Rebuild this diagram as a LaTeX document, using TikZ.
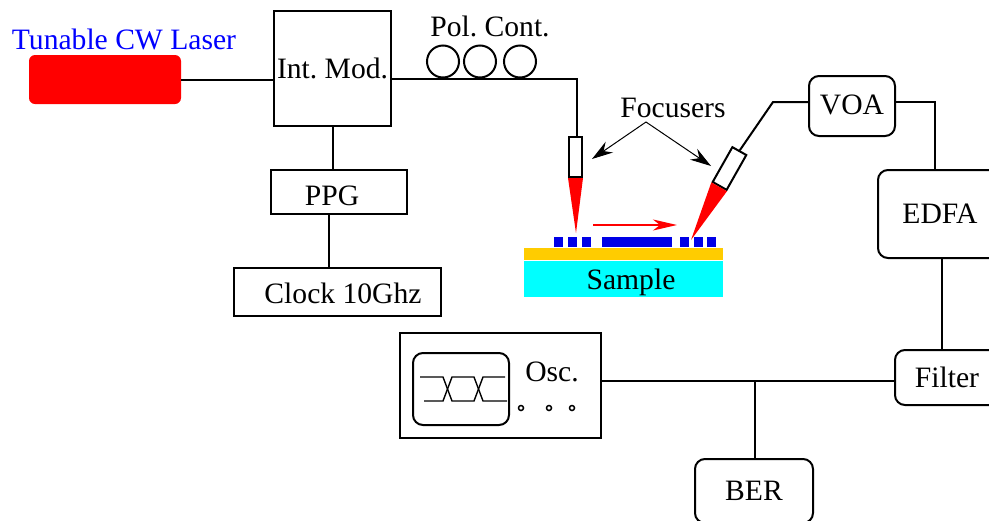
\documentclass[tikz,border=0pt]{standalone}
\usepackage{fontspec}
\setmainfont{Liberation Serif}
\usepackage{xcolor}
\usetikzlibrary{arrows.meta}
\definecolor{layergold}{RGB}{255,204,0}
\definecolor{layercyan}{RGB}{0,255,255}
\definecolor{gratingblue}{RGB}{0,0,230}
\begin{document}
\frenchspacing
\begin{tikzpicture}[
  x=1pt,y=-1pt,
  font=\fontsize{29.6}{32}\selectfont,
  block/.style={draw,line width=2pt,inner sep=0pt,align=center},
  roundblock/.style={block,rounded corners=10pt},
  wire/.style={line width=2pt},
  grating/.style={fill=gratingblue,draw=none,inner sep=0pt,minimum height=10.5pt},
  eye/.style={line width=1.4pt},
  pointer/.style={line width=1pt,-{Stealth[length=21pt,width=13pt,inset=7pt]}}
]
\useasboundingbox (0,0) rectangle (989,520);
\clip (0,0) rectangle (989,520);
% source and modulator
\node[fill=red,rounded corners=6pt,minimum width=152pt,minimum height=49pt,inner sep=0pt] (laser) at (105,79.5) {};
\node[text=blue] (laserlabel) at (124,39) {Tunable CW Laser};
\node[block,minimum width=117pt,minimum height=115pt] (mod) at (332.5,68.5) {\raisebox{-5pt}{Int. Mod.}};
\node[block,minimum width=136pt,minimum height=44pt] (ppg) at (339,192) {};
\node (ppglabel) at (332,196) {PPG};
\node[block,minimum width=207pt,minimum height=48pt] (clock) at (337.5,292) {};
\node (clocklabel) at (343,293) {Clock 10Ghz};
% polarisation controller
\node[draw,circle,line width=2pt,minimum size=32pt,inner sep=0pt] (polA) at (443,61.5) {};
\node[draw,circle,line width=2pt,minimum size=32pt,inner sep=0pt] (polB) at (480,61.5) {};
\node[draw,circle,line width=2pt,minimum size=32pt,inner sep=0pt] (polC) at (520,61.5) {};
\node (pollabel) at (490,26) {Pol. Cont.};
% sample
\node[fill=layergold,minimum width=199pt,minimum height=12.5pt,inner sep=0pt] (gold) at (623.5,254) {};
\node[fill=layercyan,minimum width=199pt,minimum height=36pt,inner sep=0pt] (sample) at (623.5,279) {};
\node (samplelabel) at (631,282) {Sample};
\node[grating,minimum width=9pt] (gA) at (558.5,242) {};
\node[grating,minimum width=9pt] (gB) at (572.5,242) {};
\node[grating,minimum width=9pt] (gC) at (586.5,242) {};
\node[grating,minimum width=70pt] (gD) at (637,242) {};
\node[grating,minimum width=9pt] (gE) at (684.5,242) {};
\node[grating,minimum width=9pt] (gF) at (698.5,242) {};
\node[grating,minimum width=9pt] (gG) at (711.5,242) {};
% focusers
\node[block,fill=white,minimum width=13pt,minimum height=40pt] (focA) at (575.5,157) {};
\node[block,fill=white,minimum width=40pt,minimum height=16pt,rotate=60.5] (focB) at (729.5,168.5) {};
\coordinate (tipA) at (576,233);
\coordinate (tipB) at (691,240);
\fill[red] (focA.south west) -- (focA.south east) -- (tipA) -- cycle;
\fill[red] (focB.north west) -- (focB.south west) -- (tipB) -- cycle;
\node (foclabel) at (673,108) {Focusers};
\coordinate (focfork) at (646,122);
\coordinate (aimA) at (592,159);
\coordinate (aimB) at (711,166);
\draw[pointer] (focfork) -- (aimA);
\draw[pointer] (focfork) -- (aimB);
\coordinate (beamA) at (593,225);
\coordinate (beamB) at (677,225);
\draw[red,line width=2pt,-{Stealth[length=24pt,width=11pt,inset=7pt]}] (beamA) -- (beamB);
% right side chain
\node[roundblock,minimum width=86pt,minimum height=60pt] (voa) at (852,106) {};
\node (voalabel) at (852,105) {VOA};
\node[roundblock,minimum width=124pt,minimum height=88pt] (edfa) at (940,214) {EDFA};
\node[roundblock,minimum width=104pt,minimum height=55pt] (filter) at (947,377.5) {Filter};
\node[roundblock,minimum width=118pt,minimum height=64pt] (ber) at (754,491) {BER};
% oscilloscope
\node[block,minimum width=201pt,minimum height=105pt] (osc) at (500.5,385.5) {};
\node[roundblock,minimum width=96pt,minimum height=72pt] (screen) at (461,389) {};
\node (osclabel) at (552,372) {Osc.};
\node[draw,circle,line width=1.5pt,minimum size=5pt,inner sep=0pt] (dotA) at (521,408) {};
\node[draw,circle,line width=1.5pt,minimum size=5pt,inner sep=0pt] (dotB) at (549,408) {};
\node[draw,circle,line width=1.5pt,minimum size=5pt,inner sep=0pt] (dotC) at (572,408) {};
\draw[eye] (420,377) -- (443,377) -- (452,401) -- (474,401) -- (483,377) -- (505,377);
\draw[eye] (424,401) -- (443,401) -- (452,377) -- (474,377) -- (483,401) -- (507,401);
% connections
\coordinate (bendA) at (577,79);
\coordinate (bendB) at (773,102);
\coordinate (bendC) at (935,102);
\coordinate (ampdrop) at (942,300);
\coordinate (clockdrop) at (329,240);
\coordinate (busY) at (755,380.5);
\draw[wire] (laser.east) -- (laser.east -| mod.west);
\draw[wire] (mod.east |- bendA) -- (bendA) -- (bendA |- focA.north);
\draw[wire] (mod.south) -- (mod.south |- ppg.north);
\draw[wire] (clockdrop |- ppg.south) -- (clockdrop |- clock.north);
\draw[wire] (focB.east) -- (bendB) -- (bendB -| voa.west);
\draw[wire] (bendC -| voa.east) -- (bendC) -- (bendC |- edfa.north);
\draw[wire] (ampdrop |- edfa.south) -- (ampdrop |- filter.north);
\draw[wire] (busY -| osc.east) -- (busY -| filter.west);
\draw[wire] (busY) -- (busY |- ber.north);
\end{tikzpicture}
\end{document}
